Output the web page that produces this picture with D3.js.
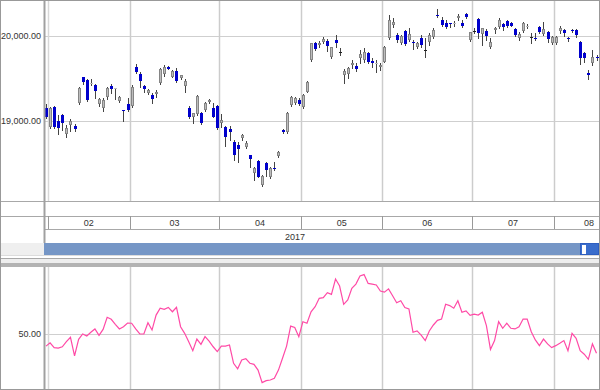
<!DOCTYPE html>
<html>
<head>
<meta charset="utf-8">
<script src="https://cdn.jsdelivr.net/npm/d3@7"></script>
<style>
body{margin:0;background:#fff}
svg{display:block}
text{font-family:"Liberation Sans Narrow","Liberation Sans",Arial,sans-serif;font-size:9px;fill:#333}
</style>
</head>
<body>
<div class="chart-container"></div>
<script>
// 日足 (2017/01/31 - 2017/08/16)
const opens = [19153,18929,19165,19000,19071,18847,18953,18941,19212,19518,19482,19435,19424,19200,19153,19282,19412,19376,19235,19129,19200,
  19176,19635,19553,19412,19329,19306,19318,19447,19553,19635,19518,19588,19506,19412,19153,19047,19082,19094,19129,19224,19153,19176,
  18976,18929,18906,18753,18718,18800,18694,18600,18388,18529,18247,18506,18341,18447,18588,18894,18871,19188,19212,19247,
  19165,19341,19718,19918,19894,19929,19941,19753,19953,19812,19541,19553,19659,19647,19741,19718,19800,19706,19671,19635,
  19694,19976,20129,20012,19918,20059,19953,19929,19871,19976,19835,19929,19988,20247,20188,20153,20153,20141,20212,20153,20259,19953,
  20059,20200,20024,20059,19871,20071,20106,20141,20176,20153,20082,19976,20059,20106,19988,19976,20106,20024,20047,19918,
  19918,20059,20071,19976,20071,20071,19929,19800,19565,19682,19753];
const highs = [19200,19165,19176,19071,19082,18953,19024,18965,19400,19518,19494,19494,19435,19271,19271,19400,19435,19388,19294,19129,19271,
  19424,19671,19576,19424,19376,19329,19365,19624,19659,19647,19600,19624,19541,19494,19176,19094,19306,19106,19224,19259,19212,19188,
  19082,18941,18941,18776,18753,18847,18765,18600,18459,18541,18365,18518,18459,18518,18647,18906,19106,19294,19282,19271,
  19318,19471,19918,19929,19941,19988,19965,19871,20012,19859,19612,19635,19718,19682,19835,19859,19812,19741,19718,19682,
  19882,20247,20212,20035,20012,20071,20094,19953,19929,20012,19976,20035,20094,20318,20224,20188,20153,20176,20259,20188,20270,20047,
  20094,20212,20094,20082,19976,20106,20212,20153,20188,20165,20094,20047,20165,20141,20035,20035,20118,20165,20059,20000,
  20000,20118,20082,19988,20082,20082,19941,19812,19600,19835,19776];
const lows = [19035,18918,18918,18847,18894,18812,18882,18882,19200,19435,19235,19424,19271,19176,19118,19259,19329,19259,19224,19000,19118,
  19165,19565,19400,19341,19318,19212,19282,19435,19529,19612,19518,19459,19494,19341,19035,18976,19071,18965,19118,19212,19047,18906,
  18929,18706,18776,18541,18518,18776,18682,18459,18306,18341,18235,18353,18329,18424,18576,18859,18859,19176,19200,19188,
  19153,19341,19706,19835,19871,19918,19823,19741,19871,19776,19447,19506,19624,19588,19682,19694,19682,19635,19576,19600,
  19694,19965,20106,19929,19906,19894,19941,19847,19859,19871,19753,19894,19976,20224,20118,20094,20106,20118,20188,20106,20212,19941,
  20035,19976,19894,19953,19859,20035,20094,20071,20106,20118,20000,19953,20047,20094,19918,19953,20035,20012,19929,19906,
  19906,20035,20000,19941,20047,19988,19671,19694,19494,19659,19718];
const closes = [19047,19153,18929,18918,18976,18918,19000,18906,19388,19459,19247,19447,19353,19259,19247,19388,19376,19388,19282,19118,19129,
  19400,19576,19471,19376,19365,19259,19341,19612,19635,19612,19588,19471,19541,19471,19047,19094,19294,18976,19212,19247,19047,18918,
  19012,18812,18871,18600,18671,18835,18741,18553,18447,18341,18353,18424,18447,18435,18635,18871,19094,19282,19271,19200,
  19306,19459,19918,19847,19918,19965,19882,19871,19918,19806,19588,19624,19682,19612,19788,19812,19694,19682,19682,19659,
  19871,20188,20165,19953,20000,19906,20024,19918,19918,19894,19835,20012,20071,20235,20129,20106,20141,20153,20235,20118,20224,20047,
  20055,20035,20094,20000,19929,20094,20188,20106,20118,20118,20012,20024,20153,20118,19985,19965,20047,20082,19965,19988,
  19988,20094,20035,19965,20059,20012,19741,19741,19541,19753,19741];

// 下段指標 (RSI)
const rsi = [44.5,46.0,43.8,43.6,44.2,46.5,48.5,40.1,47.6,50.0,49.1,50.8,52.3,49.4,52.1,57.6,56.7,54.4,52.3,53.3,55.0,
  54.9,52.3,50.0,50.0,55.1,51.8,58.6,61.7,61.2,62.1,60.1,62.1,53.3,50.3,46.5,42.4,47.7,45.3,48.8,46.8,44.2,42.0,
  44.5,44.5,45.0,36.7,34.2,38.2,38.8,36.7,36.2,33.6,27.9,28.8,29.1,29.9,33.6,39.0,44.5,53.6,53.0,48.8,
  55.6,54.9,60.1,62.4,66.2,66.5,68.8,68.0,75.0,71.8,63.5,65.5,70.8,72.7,76.4,77.0,73.0,72.7,72.3,69.5,
  69.0,70.5,67.4,64.2,65.1,62.0,61.4,50.8,51.4,49.5,47.0,51.4,54.1,56.2,56.8,63.5,62.9,61.7,65.1,59.9,60.5,58.5,
  59.0,58.6,59.9,53.8,43.0,47.0,55.6,52.6,54.9,52.6,52.3,53.3,56.8,56.8,51.0,47.3,44.7,47.7,45.5,43.8,
  44.7,45.8,47.0,42.4,50.3,48.0,42.4,40.8,38.5,45.5,41.2];

const months = ['02','03','04','05','06','07','08'];
const monthStart = [1,21,43,63,83,105,125];   // 各月最初の足の番号
const monthDays = [20,22,20,20,22,20,22];      // 各月の営業日数
const priceTicks = [19000,20000];
const rsiTicks = [50];
const yearLabel = '2017';

const W = 600, H = 390, L = 44;
const panel = {top:0, bottom:201};
const sub = {top:267, bottom:389};

const svg = d3.select('.chart-container').append('svg')
  .attr('width', W).attr('height', H);
svg.append('rect').attr('width', W).attr('height', H).attr('fill', '#fff');

const xScale = d3.scaleLinear().domain([0, opens.length - 1]).range([46, 596.5]);
const yScale = d3.scaleLinear().domain([19000, 20000]).range([121, 36]);
const rScale = d3.scaleLinear().domain([50, 80]).range([334, 268]);
const px = v => Math.round(v) + 0.5;

const bounds = monthStart.map(s => xScale(s - 0.5));

//クリップ
const defs = svg.append('defs');
defs.append('clipPath').attr('id','clip-main').append('rect')
  .attr('x', L).attr('y', 1).attr('width', W - L - 1).attr('height', panel.bottom - 1);
defs.append('clipPath').attr('id','clip-sub').append('rect')
  .attr('x', L).attr('y', sub.top).attr('width', W - L - 1).attr('height', sub.bottom - sub.top);

//----- 上段 ローソク足 -----
const main = svg.append('g').attr('clip-path','url(#clip-main)');
main.selectAll('.hgrid').data(priceTicks).enter().append('line')
  .attr('x1', L).attr('x2', W).attr('y1', d => px(yScale(d))).attr('y2', d => px(yScale(d)))
  .attr('stroke', '#cfcfcf');
main.selectAll('.vgrid').data(bounds).enter().append('line')
  .attr('x1', d => px(d)).attr('x2', d => px(d)).attr('y1', panel.top).attr('y2', panel.bottom)
  .attr('stroke', (d,i) => i == 0 ? '#d8d8d8' : '#cccccc').attr('stroke-width', 1.5);

const candles = main.selectAll('.candle').data(opens.map((o,i) => ({
  i, open:o, high:highs[i], low:lows[i], close:closes[i]
}))).enter().append('g').attr('class','candle');

candles.append('line')
  .attr('x1', d => px(xScale(d.i))).attr('x2', d => px(xScale(d.i)))
  .attr('y1', d => Math.round(yScale(d.high))).attr('y2', d => Math.round(yScale(d.low)) + 1)
  .attr('stroke', '#444');

candles.append('rect')
  .attr('x', d => Math.round(xScale(d.i)) - 1)
  .attr('width', 3)
  .attr('y', d => Math.round(yScale(Math.max(d.open, d.close))))
  .attr('height', d => Math.max(1, Math.round(yScale(Math.min(d.open, d.close))) - Math.round(yScale(Math.max(d.open, d.close)))))
  .attr('fill', d => Math.abs(d.close - d.open) < 8 ? '#222' : (d.close > d.open ? '#bdbdbd' : '#0000cc'));

candles.filter(d => d.close - d.open >= 8).append('rect')
  .attr('x', d => Math.round(xScale(d.i)) - 0.5)
  .attr('width', 2)
  .attr('y', d => Math.round(yScale(d.close)) + 0.5)
  .attr('height', d => Math.max(0, Math.round(yScale(d.open)) - Math.round(yScale(d.close)) - 1))
  .attr('fill', 'none').attr('stroke', '#858585');

svg.selectAll('.ylabel').data(priceTicks).enter().append('text')
  .attr('x', 41).attr('y', d => yScale(d) + 3).attr('text-anchor','end')
  .text(d => d3.format(',.2f')(d));

//----- 月・年の目盛り -----
svg.append('line').attr('x1',0).attr('x2',W).attr('y1',201.5).attr('y2',201.5).attr('stroke','#a8a8a8');
svg.append('line').attr('x1',0).attr('x2',W).attr('y1',216.5).attr('y2',216.5).attr('stroke','#a8a8a8');
svg.append('line').attr('x1',L).attr('x2',W).attr('y1',229.5).attr('y2',229.5).attr('stroke','#a8a8a8');
svg.selectAll('.msep').data(bounds).enter().append('line')
  .attr('x1', d => px(d)).attr('x2', d => px(d)).attr('y1', 216).attr('y2', 229)
  .attr('stroke', '#999');
svg.selectAll('.mlabel').data(months).enter().append('text')
  .attr('x', (d,i) => Math.min(xScale(monthStart[i] - 0.5 + monthDays[i] / 2), W - 11))
  .attr('y', 226).attr('text-anchor','middle').text(d => d);
svg.append('text').attr('x', 295).attr('y', 240).attr('text-anchor','middle').text(yearLabel);

//スクロールバー
svg.append('rect').attr('x',0).attr('y',243).attr('width',L).attr('height',12).attr('fill','#efefef');
svg.append('rect').attr('x',L).attr('y',243).attr('width',W - L).attr('height',12).attr('fill','#7596c6');
svg.append('rect').attr('x',580.5).attr('y',243.5).attr('width',18).attr('height',11)
  .attr('fill','#3a6dcc').attr('stroke','#2f5fc0');
svg.append('rect').attr('x',582).attr('y',245).attr('width',4).attr('height',9).attr('fill','#fff');
svg.append('line').attr('x1',0).attr('x2',W).attr('y1',255.5).attr('y2',255.5).attr('stroke','#dcdcdc');
svg.append('line').attr('x1',0).attr('x2',W).attr('y1',258.5).attr('y2',258.5).attr('stroke','#a8a8a8');
svg.append('rect').attr('x',0).attr('y',259).attr('width',W).attr('height',4).attr('fill','#eeeeee');
svg.append('rect').attr('x',0).attr('y',263).attr('width',W).attr('height',4).attr('fill','#b3b3b3');

//----- 下段 RSI -----
const lower = svg.append('g').attr('clip-path','url(#clip-sub)');
lower.selectAll('.hgrid').data(rsiTicks).enter().append('line')
  .attr('x1', L).attr('x2', W).attr('y1', d => px(rScale(d))).attr('y2', d => px(rScale(d)))
  .attr('stroke', '#cfcfcf');
lower.selectAll('.vgrid').data(bounds).enter().append('line')
  .attr('x1', d => px(d)).attr('x2', d => px(d)).attr('y1', sub.top).attr('y2', sub.bottom)
  .attr('stroke', (d,i) => i == 0 ? '#d8d8d8' : '#cccccc').attr('stroke-width', 1.5);
lower.append('path').datum(rsi)
  .attr('d', d3.line().x((d,i) => xScale(i)).y(d => rScale(d)))
  .attr('fill','none').attr('stroke','#ff4aa6').attr('stroke-width',1.2);
svg.selectAll('.rlabel').data(rsiTicks).enter().append('text')
  .attr('x', 41).attr('y', d => rScale(d) + 3).attr('text-anchor','end')
  .text(d => d3.format('.2f')(d));

//左端の縦線と外枠
svg.append('line').attr('x1',44.5).attr('x2',44.5).attr('y1',0).attr('y2',243).attr('stroke','#a0a0a0').attr('stroke-width',2);
svg.append('line').attr('x1',44.5).attr('x2',44.5).attr('y1',267).attr('y2',H).attr('stroke','#a0a0a0').attr('stroke-width',2);
svg.append('rect').attr('x',0.5).attr('y',0.5).attr('width',W - 1).attr('height',H - 1)
  .attr('fill','none').attr('stroke','#999');
</script>
</body>
</html>
